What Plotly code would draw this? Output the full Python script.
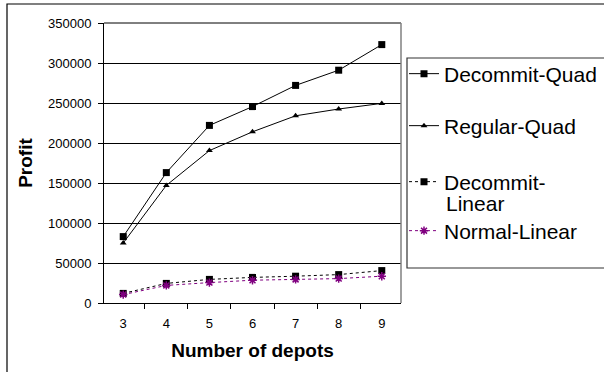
import plotly.graph_objects as go

W, H = 604, 372

depots = ["3", "4", "5", "6", "7", "8", "9"]
decommit_quad = [83000, 163000, 222000, 245500, 272000, 291000, 323000]
regular_quad = [75000, 147000, 190500, 214000, 234000, 242500, 249500]
decommit_linear = [12000, 24500, 29500, 32000, 33500, 35500, 40500]
normal_linear = [10500, 22000, 25500, 28500, 29500, 30500, 33500]

PURPLE = "#800080"
FONT = "Liberation Sans, Arial, sans-serif"


def px_x(x):
    return x / W


def px_y(y):
    return 1 - y / H


fig = go.Figure()

fig.add_trace(go.Scatter(
    x=depots, y=decommit_quad, name="Decommit-Quad", mode="lines+markers",
    line=dict(color="black", width=1),
    marker=dict(symbol="square", size=7, color="black"),
    legend="legend",
))
fig.add_trace(go.Scatter(
    x=depots, y=regular_quad, name="Regular-Quad", mode="lines+markers",
    line=dict(color="black", width=1),
    marker=dict(symbol="triangle-up", size=6, color="black"),
    legend="legend2",
))
fig.add_trace(go.Scatter(
    x=depots, y=decommit_linear, name="Decommit-", mode="lines+markers",
    line=dict(color="black", width=1, dash="dot"),
    marker=dict(symbol="square", size=7, color="black"),
    legend="legend3",
))
fig.add_trace(go.Scatter(
    x=depots, y=normal_linear, name="Normal-Linear", mode="lines+markers",
    line=dict(color=PURPLE, width=1, dash="dot"),
    marker=dict(symbol="asterisk-open", size=7, color=PURPLE,
                line=dict(color=PURPLE, width=1.5)),
    legend="legend4",
))

# plot area in pixel terms
x0p, x1p, y0p, y1p = 104, 401, 23, 303
LEG_X = 404
LEG_FONT = 21

legend_common = dict(
    font=dict(family=FONT, size=LEG_FONT, color="black"),
    bgcolor="rgba(0,0,0,0)", borderwidth=0,
    xref="paper", yref="paper", xanchor="left", yanchor="middle",
    x=px_x(LEG_X),
    itemclick=False, itemdoubleclick=False,
)

fig.update_layout(
    width=W, height=H,
    showlegend=True,
    margin=dict(l=0, r=0, t=0, b=0, autoexpand=False),
    paper_bgcolor="white", plot_bgcolor="white",
    font=dict(family=FONT, size=13, color="black"),
    xaxis=dict(
        domain=[px_x(x0p), px_x(x1p)],
        type="category", tickson="boundaries",
        ticks="outside", ticklen=5, tickcolor="black",
        showline=True, linecolor="black", linewidth=1,
        showgrid=False, zeroline=False,
        tickfont=dict(size=13),
        ticklabelstandoff=8,
        title=dict(text="<b>Number of depots</b>", font=dict(size=19), standoff=14),
    ),
    yaxis=dict(
        domain=[px_y(y1p), px_y(y0p)],
        range=[0, 350000], dtick=50000, tickformat="d",
        ticks="outside", ticklen=5, tickcolor="black",
        showline=True, linecolor="black", linewidth=1,
        showgrid=True, gridcolor="black", gridwidth=1,
        zeroline=False,
        tickfont=dict(size=13),
        ticklabelstandoff=4,
        title=dict(text="<b>Profit</b>", font=dict(size=19), standoff=10),
    ),
    legend=dict(**legend_common, y=px_y(74)),
    legend2=dict(**legend_common, y=px_y(126)),
    legend3=dict(**legend_common, y=px_y(182)),
    legend4=dict(**legend_common, y=px_y(231)),
    annotations=[
        # second line of the Decommit-Linear legend entry
        dict(text="Linear", xref="paper", yref="paper",
             x=px_x(444), y=px_y(204), xanchor="left", yanchor="middle",
             showarrow=False, font=dict(family=FONT, size=LEG_FONT, color="black")),
    ],
    shapes=[
        # top edge of plot area
        dict(type="line", xref="paper", yref="paper",
             x0=px_x(x0p), x1=px_x(x1p), y0=px_y(y0p), y1=px_y(y0p),
             line=dict(color="black", width=1)),
        # right edge of plot area
        dict(type="line", xref="paper", yref="paper",
             x0=px_x(x1p), x1=px_x(x1p), y0=px_y(y0p), y1=px_y(y1p),
             line=dict(color="#808080", width=1.5)),
        # legend frame
        dict(type="rect", xref="paper", yref="paper",
             x0=px_x(407), x1=px_x(640), y0=px_y(58), y1=px_y(268),
             line=dict(color="#333333", width=1.2)),
        # chart frame
        dict(type="rect", xref="paper", yref="paper",
             x0=px_x(7), x1=px_x(660), y0=px_y(4), y1=px_y(400),
             line=dict(color="black", width=1.2)),
    ],
)

fig.write_html("out.html")
